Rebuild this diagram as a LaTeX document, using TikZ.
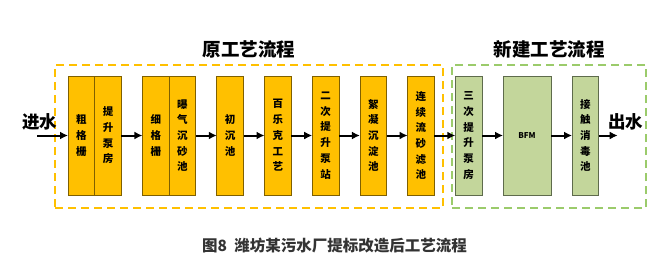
\documentclass[tikz,border=0pt]{standalone}
\usepackage{fontspec}
\setmainfont{Noto Sans CJK SC}
\usepackage{xcolor}
\usepackage{tikz}
\usetikzlibrary{arrows.meta,positioning}
\definecolor{wfyellow}{HTML}{FFC000}
\definecolor{wfyline}{HTML}{7F6000}
\definecolor{wfgreen}{HTML}{C3D69B}
\definecolor{wfgline}{HTML}{5E6B4C}
\definecolor{wfgdash}{HTML}{9BCB6B}
\definecolor{wfcap}{HTML}{333333}
\tikzset{
  flowarrow/.style={-{Latex[length=8pt,width=8pt]}, line width=2pt, draw=black},
  oldbox/.style={draw=wfyline, fill=wfyellow, line width=0.8pt, align=center,
    minimum width=26.7pt, minimum height=119pt, inner sep=0pt, outer sep=0pt,
    font=\bfseries\fontsize{10.5}{15.7}\selectfont},
  newbox/.style={oldbox, draw=wfgline, fill=wfgreen},
  oldframe/.style={draw=wfyellow, line width=1.6pt, dash pattern=on 8pt off 5pt,
    minimum width=388pt, minimum height=143pt, inner sep=0pt},
  newframe/.style={oldframe, draw=wfgdash, minimum width=194pt},
  titletext/.style={font=\bfseries\fontsize{18.5}{19}\selectfont, inner sep=1pt},
  endtext/.style={font=\bfseries\fontsize{17.5}{18}\selectfont, inner sep=0pt}
}

\begin{document}
\begin{tikzpicture}[x=1pt, y=-1pt, node distance=21pt]
    \useasboundingbox[fill=white] (0,0) rectangle (669,268);

    % frames and titles
    \node[oldframe] (oldfr) at (249,136.5) {};
    \node[newframe] (newfr) at (549,136.5) {};
    \node[titletext, above=5pt of oldfr] (oldtitle) {原工艺流程};
    \node[titletext, above=5pt of newfr] (newtitle) {新建工艺流程};

    % process units
    \node[oldbox, anchor=north west] (coarse) at (68,76) {粗\\格\\栅};
    \node[oldbox, right=0pt of coarse] (pump) {提\\升\\泵\\房};
    \node[oldbox, right=of pump] (fine) {细\\格\\栅};
    \node[oldbox, right=0pt of fine] (grit) {曝\\气\\沉\\砂\\池};
    \node[oldbox, right=of grit] (prim) {初\\沉\\池};
    \node[oldbox, right=of prim] (bio) {百\\乐\\克\\工\\艺};
    \node[oldbox, right=of bio] (pumptwo) {二\\次\\提\\升\\泵\\站};
    \node[oldbox, right=of pumptwo] (floc) {絮\\凝\\沉\\淀\\池};
    \node[oldbox, right=of floc] (sand) {连\\续\\流\\砂\\滤\\池};
    \node[newbox, right=of sand] (pumpthree) {三\\次\\提\\升\\泵\\房};
    \node[newbox, right=of pumpthree, minimum width=48pt,
      font=\bfseries\fontsize{8}{9}\selectfont] (bfm) {BFM};
    \node[newbox, right=of bfm] (disinf) {接\\触\\消\\毒\\池};

    % inlet and outlet
    \coordinate (inpt) at (37,135.5);
    \coordinate[right=19pt of disinf] (outpt);
    \node[endtext] (inlab) at (39.5,122) {进水};
    \node[endtext] (outlab) at (625.5,122) {出水};

    \draw[flowarrow] (inpt) -- (coarse);
    \draw[flowarrow] (pump) -- (fine);
    \draw[flowarrow] (grit) -- (prim);
    \draw[flowarrow] (prim) -- (bio);
    \draw[flowarrow] (bio) -- (pumptwo);
    \draw[flowarrow] (pumptwo) -- (floc);
    \draw[flowarrow] (floc) -- (sand);
    \draw[flowarrow] (sand) -- (pumpthree);
    \draw[flowarrow] (pumpthree) -- (bfm);
    \draw[flowarrow] (bfm) -- (disinf);
    \draw[flowarrow] (disinf) -- (outpt);

    % caption
    \node[font=\bfseries\fontsize{15.5}{17}\selectfont, text=wfcap] (caption) at (334.5,246)
      {图8\ \ 潍坊某污水厂提标改造后工艺流程};
\end{tikzpicture}
\end{document}
